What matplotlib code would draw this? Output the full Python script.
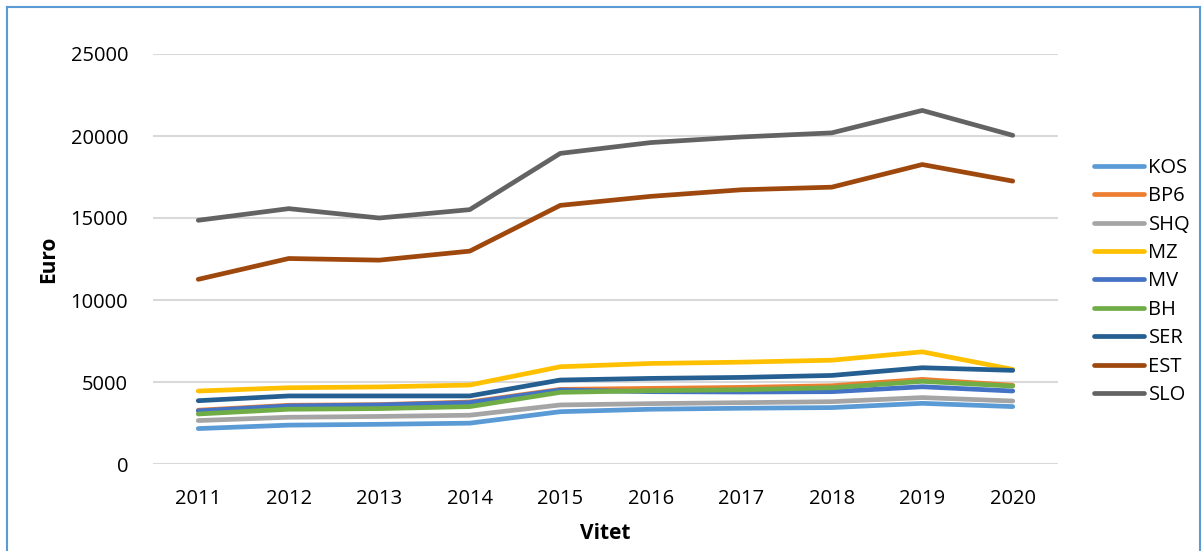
import matplotlib
matplotlib.use("Agg")
import matplotlib.pyplot as plt
from matplotlib.lines import Line2D

plt.rcParams['font.family'] = ['Open Sans', 'DejaVu Sans']

years = [2011, 2012, 2013, 2014, 2015, 2016, 2017, 2018, 2019, 2020]

kos = [2160, 2370, 2420, 2490, 3190, 3340, 3400, 3440, 3700, 3500]
bp6 = [3280, 3580, 3620, 3780, 4550, 4610, 4670, 4770, 5160, 4800]
shq = [2650, 2850, 2900, 2975, 3600, 3680, 3740, 3800, 4050, 3840]
mz = [4450, 4650, 4700, 4815, 5930, 6130, 6210, 6330, 6840, 5770]
mv = [3240, 3540, 3600, 3740, 4510, 4410, 4390, 4410, 4710, 4450]
bh = [3050, 3340, 3380, 3500, 4370, 4470, 4530, 4650, 5040, 4750]
ser = [3860, 4150, 4150, 4150, 5120, 5220, 5280, 5400, 5870, 5710]
est = [11260, 12530, 12430, 12980, 15770, 16320, 16720, 16880, 18260, 17250]
slo = [14860, 15570, 15000, 15510, 18940, 19600, 19940, 20190, 21560, 20040]

names = ['KOS', 'BP6', 'SHQ', 'MZ', 'MV', 'BH', 'SER', 'EST', 'SLO']
series = [kos, bp6, shq, mz, mv, bh, ser, est, slo]
colors = ['#5B9BD5', '#ED7D31', '#A5A5A5', '#FFC000', '#4472C4',
          '#70AD47', '#255E91', '#9E480E', '#636363']

fig = plt.figure(figsize=(12.03, 5.51), dpi=100)
ax = fig.add_axes([153 / 1203, 1 - 464 / 551, 905 / 1203, 410 / 551])

x = list(range(len(years)))
for vals, name, c in zip(series, names, colors):
    ax.plot(x, vals, color=c, lw=3.4, solid_capstyle='round',
            solid_joinstyle='round', label=name)

ax.set_xlim(-0.5, len(years) - 0.5)
ax.set_ylim(0, 25000)
ax.set_xticks(x)
ax.set_xticklabels([str(y) for y in years])
ax.set_yticks(range(0, 25001, 5000))
ax.tick_params(length=0, labelsize=14.5, pad=18)
ax.grid(axis='y', color='#D9D9D9', lw=1.5)
ax.set_axisbelow(True)
for s in ax.spines.values():
    s.set_visible(False)

ax.set_xlabel('Vitet', fontsize=15, fontweight='bold', labelpad=10)
ax.set_ylabel('Euro', fontsize=15, fontweight='bold', labelpad=8)

handles = [Line2D([], [], color=c, lw=3.4, solid_capstyle='round') for c in colors]
fig.legend(handles, names, loc='center left',
           bbox_to_anchor=(1084 / 1203, 1 - 281.5 / 551),
           frameon=False, fontsize=14.5, handlelength=2.5,
           handletextpad=0.2, labelspacing=0.42, borderpad=0)

# chart border
bc = '#5B9BD5'
fig.add_artist(Line2D([7 / 1203, 7 / 1203], [0, 1 - 7 / 551], color=bc, lw=1.5))
fig.add_artist(Line2D([7 / 1203, 1200 / 1203], [1 - 7 / 551, 1 - 7 / 551], color=bc, lw=1.5))
fig.add_artist(Line2D([1200 / 1203, 1200 / 1203], [0, 1 - 7 / 551], color=bc, lw=1.5))

fig.savefig('out.png', dpi=100)
